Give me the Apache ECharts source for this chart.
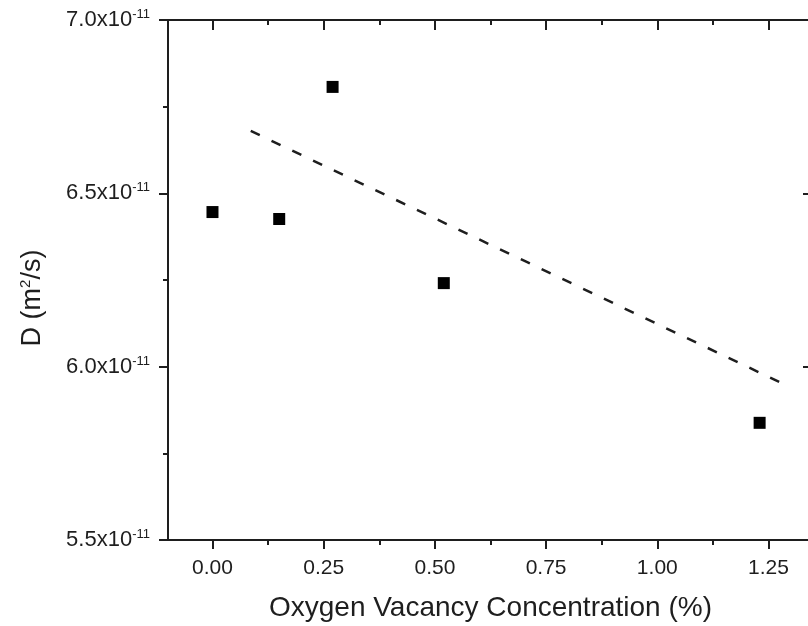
<!DOCTYPE html>
<html>
<head>
<meta charset="utf-8">
<title>D vs oxygen vacancy</title>
<script src="https://cdn.jsdelivr.net/npm/echarts@6/dist/echarts.min.js"></script>
<style>
    html, body { margin: 0; padding: 0; background: #fff; }
    #main { width: 808px; height: 626px; }
</style>
</head>
<body>
<div id="main"></div>
<script>
    // oxygen vacancy concentration (%)
    const concentration = [0, 0.15, 0.27, 0.52, 1.23];
    // diffusion coefficient D, in units of 1e-11 m^2/s
    const diffusion = [6.446, 6.426, 6.807, 6.241, 5.838];
    // dashed linear fit, end points
    const fitX = [0.086, 1.279];
    const fitD = [6.680, 5.953];
    // tick positions on x
    const xMajor = [0, 0.25, 0.5, 0.75, 1.0, 1.25];
    const xMinor = [0.125, 0.375, 0.625, 0.875, 1.125];

    const ink = '#1e1e1e';
    const font = 'Liberation Sans';

    const lineStyle = { color: ink, width: 2 };

    function xAxisBase(pos) {
        return {
            type: 'value', position: pos, min: -0.1, max: 1.35,
            splitLine: { show: false },
            axisLine: { show: false },
            axisTick: { show: false },
            axisLabel: { show: false }
        };
    }

    const bottomMajor = xAxisBase('bottom');
    bottomMajor.axisLine = { show: true, onZero: false, lineStyle: lineStyle };
    bottomMajor.axisTick = { show: true, customValues: xMajor, length: 9, lineStyle: lineStyle };
    bottomMajor.axisLabel = {
        show: true, customValues: xMajor, margin: 18,
        fontFamily: font, fontSize: 21, color: ink,
        formatter: v => v.toFixed(2)
    };
    bottomMajor.name = 'Oxygen Vacancy Concentration (%)';
    bottomMajor.nameLocation = 'middle';
    bottomMajor.nameGap = 54;
    bottomMajor.nameTextStyle = { fontFamily: font, fontSize: 28, color: ink };

    const bottomMinor = xAxisBase('bottom');
    bottomMinor.axisTick = { show: true, customValues: xMinor, length: 5, lineStyle: lineStyle };

    const topMajor = xAxisBase('top');
    topMajor.axisLine = { show: true, onZero: false, lineStyle: lineStyle };
    topMajor.axisTick = { show: true, inside: true, customValues: xMajor, length: 10, lineStyle: lineStyle };

    const topMinor = xAxisBase('top');
    topMinor.axisTick = { show: true, inside: true, customValues: xMinor, length: 5, lineStyle: lineStyle };

    const yCommon = {
        type: 'value', min: 5.5, max: 7.0, interval: 0.5,
        splitLine: { show: false },
        minorSplitLine: { show: false },
        minorTick: { show: true, splitNumber: 2, length: 5, lineStyle: lineStyle },
        axisLine: { show: true, onZero: false, lineStyle: lineStyle }
    };

    const option = {
        animation: false,
        backgroundColor: '#fff',
        // right edge sits just outside the picture, like the cropped original
        grid: {
            left: 168, top: 20, width: 645, height: 520,
            containLabel: false, outerBoundsMode: 'none'
        },
        xAxis: [bottomMajor, bottomMinor, topMajor, topMinor],
        yAxis: [
            Object.assign({}, yCommon, {
                position: 'left',
                axisTick: { show: true, length: 9, lineStyle: lineStyle },
                axisLabel: {
                    margin: 18, fontFamily: font, color: ink,
                    formatter: v => '{m|' + v.toFixed(1) + 'x10}{s|-11}',
                    rich: {
                        m: { fontFamily: font, fontSize: 22, color: ink, lineHeight: 24 },
                        s: { fontFamily: font, fontSize: 13, color: ink, lineHeight: 13, verticalAlign: 'top' }
                    }
                }
            }),
            Object.assign({}, yCommon, {
                position: 'right',
                axisTick: { show: true, inside: true, length: 10, lineStyle: lineStyle },
                minorTick: { show: true, splitNumber: 2, length: 5, lineStyle: lineStyle },
                axisLabel: { show: false }
            })
        ],
        graphic: [{
            type: 'text',
            x: 33, y: 298,
            rotation: Math.PI / 2,
            style: {
                text: '{m|D (m}{s|2}{m|/s)}',
                align: 'center',
                verticalAlign: 'middle',
                rich: {
                    m: { fontFamily: font, fontSize: 27, fill: ink, lineHeight: 29 },
                    s: { fontFamily: font, fontSize: 15, fill: ink, lineHeight: 15, verticalAlign: 'top' }
                }
            }
        }],
        series: [
            {
                type: 'line',
                xAxisIndex: 0, yAxisIndex: 0,
                data: fitX.map((x, i) => [x, fitD[i]]),
                showSymbol: false,
                symbol: 'none',
                lineStyle: { color: ink, width: 2.5, type: [10, 13] },
                silent: true
            },
            {
                type: 'scatter',
                xAxisIndex: 0, yAxisIndex: 0,
                data: concentration.map((x, i) => [x, diffusion[i]]),
                symbol: 'rect',
                symbolSize: 12,
                itemStyle: { color: '#000', opacity: 1 }
            }
        ]
    };

    const chart = echarts.init(document.getElementById('main'));
    chart.setOption(option);
</script>
</body>
</html>
